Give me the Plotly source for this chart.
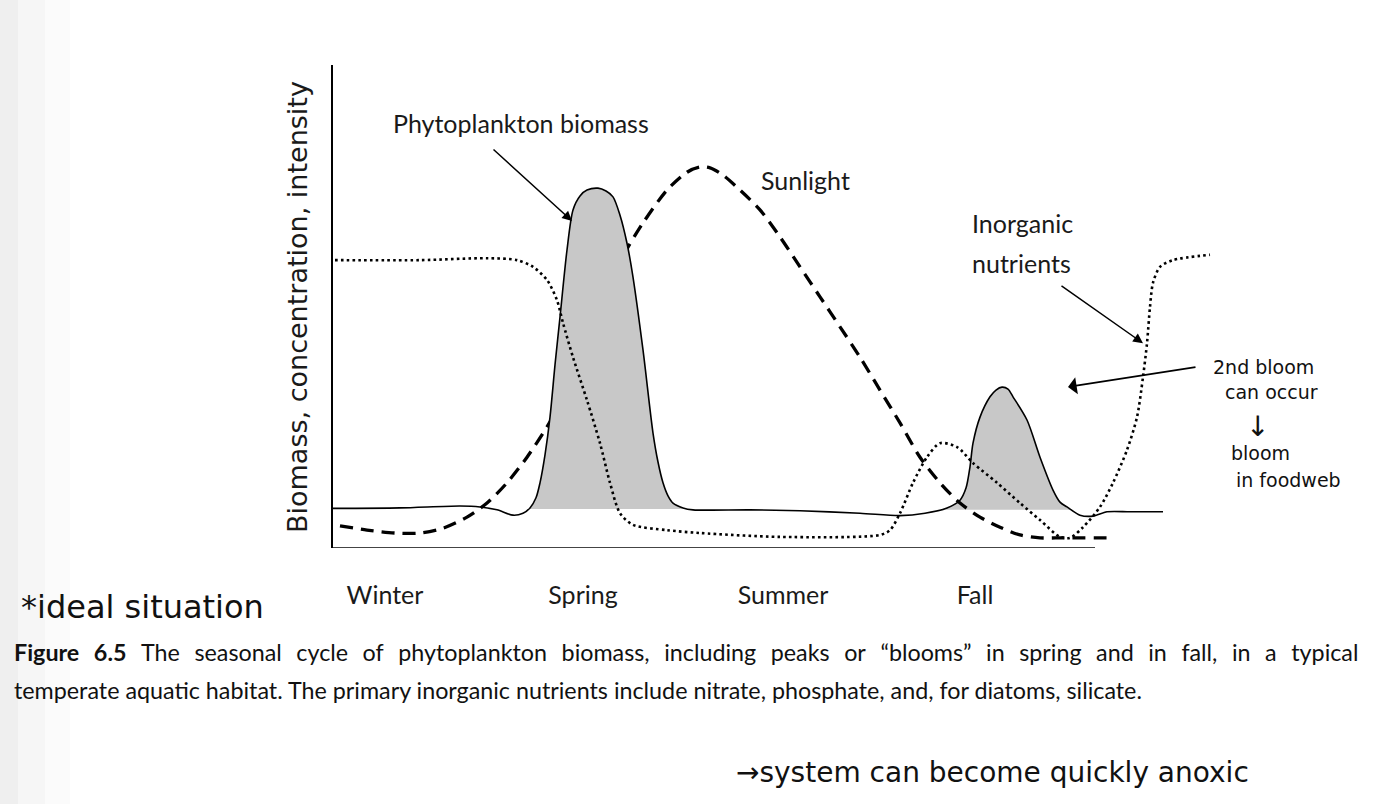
import plotly.graph_objects as go

# ---------------- data (time units along x, relative level 0-100 along y) ----------------
BIO_X = [0, 6.7, 12.7, 14.7, 16.4, 18.0, 19.0, 19.7, 20.3, 20.7, 21.2, 21.7, 22.2, 22.7, 23.4, 24.0,
         24.7, 25.4, 26.5, 27.3, 28.0, 28.7, 29.4, 30.0, 31.0, 32.0, 32.5, 33.0, 33.5, 34.0, 35.0,
         36.0, 41.7, 46.7, 52.7, 56.7, 59.2, 61.4, 62.7, 63.3, 63.7, 64.0, 64.7, 65.7, 66.3, 66.9,
         67.5, 68.0, 69.4, 70.7, 72.0, 72.7, 73.4, 74.7, 76.0, 77.4, 79.7, 83.0]
BIO_Y = [8.2, 8.3, 8.7, 8.5, 7.9, 6.8, 7.2, 8.3, 10.4, 13.5, 19.3, 27.1, 37.9, 47.8, 61.7, 70.0,
         72.9, 74.1, 74.5, 73.9, 72.7, 68.9, 63.1, 56.1, 41.0, 23.8, 17.8, 13.5, 10.8, 9.3, 8.3,
         7.9, 7.9, 7.7, 7.2, 6.7, 7.2, 8.3, 9.9, 12.4, 16.8, 21.7, 27.1, 31.3, 32.7, 33.3,
         32.9, 31.3, 26.5, 18.8, 12.0, 9.5, 8.5, 6.8, 6.6, 7.5, 7.5, 7.5]

SUN_X = [0.7, 3.4, 6.2, 8.7, 11.0, 13.4, 15.4, 17.4, 19.4, 21.4, 23.4, 25.4, 27.4, 29.5, 31.0,
         33.4, 35.4, 36.7, 37.7, 39.0, 40.7, 42.7, 44.7, 46.7, 48.7, 50.7, 52.7, 54.7, 56.7,
         58.7, 60.7, 62.7, 64.7, 66.7, 68.7, 70.7, 73.0, 77.7]
SUN_Y = [4.6, 3.7, 3.1, 3.1, 4.1, 6.4, 9.3, 13.5, 18.8, 25.1, 32.7, 43.1, 54.5, 62.3, 67.3,
         74.1, 77.8, 78.9, 78.7, 77.2, 74.1, 70.0, 64.4, 58.2, 52.0, 45.8, 39.5, 32.7, 25.9,
         18.8, 13.5, 9.3, 6.4, 4.3, 2.7, 2.1, 2.1, 2.1]

NUT_X = [0.2, 8.7, 15.4, 18.4, 20.0, 21.4, 22.4, 23.0, 24.0, 25.4, 26.7, 27.7, 28.7, 30.0, 33.4,
         36.7, 44.7, 54.7, 55.7, 56.7, 58.0, 59.4, 60.7, 62.4, 64.0, 66.4, 68.7, 70.7, 72.7, 73.7,
         75.0, 76.7, 78.0, 79.4, 80.4, 81.0, 81.4, 81.7, 82.0, 82.7, 84.0, 87.7]
NUT_Y = [59.6, 59.6, 60.0, 59.6, 58.2, 55.5, 51.3, 46.6, 39.5, 30.6, 21.7, 13.5, 7.2, 4.8, 3.7,
         3.1, 2.3, 2.7, 3.7, 7.2, 13.5, 18.8, 21.7, 20.9, 17.6, 13.5, 9.3, 5.8, 2.3, 2.1,
         4.3, 8.5, 13.5, 20.3, 27.1, 35.4, 42.4, 49.9, 54.9, 58.2, 59.6, 60.7]

SPRING_BLOOM = (19.7, 35.0, 8.1)   # start, end, base level
FALL_BLOOM = (61.2, 73.8, 7.9)

SEASONS = ["Winter", "Spring", "Summer", "Fall"]
SEASON_POS = [5.2, 25.0, 45.0, 64.2]

X_AXIS_END = 76.2

CAPTION_1 = "<b>Figure 6.5</b>  The seasonal cycle of phytoplankton biomass, including peaks or “blooms” in spring and in fall, in a typical"
CAPTION_2 = "temperate aquatic habitat. The primary inorganic nutrients include nitrate, phosphate, and, for diatoms, silicate."

# ---------------- layout geometry ----------------
W, H = 1378, 804
ML, MR, MT, MB = 333, 0, 65, 256
PW, PH = W - ML - MR, H - MT - MB


def pxx(px):
    return (px - ML) / PW


def pxy(py):
    return (H - MB - py) / PH


def bloom_polygon(start, end, base):
    xs = [start] + [x for x in BIO_X if start < x < end] + [end]
    ys = [base] + [y for x, y in zip(BIO_X, BIO_Y) if start < x < end] + [base]
    return xs, ys


def justify(text):
    # widen word gaps to imitate the justified first caption line
    return text.replace("  ", " ").replace(" ", "\u2002\u2009")


LABEL_FONT = dict(family="Lato, 'Open Sans', sans-serif", size=25, color="#1a1a1a")
CAP_FONT = dict(family="Lato, 'DejaVu Sans', sans-serif", size=23.3, color="#111111")
HAND_FONT = dict(family="'DejaVu Sans', sans-serif", color="#111111")

fig = go.Figure()

fx, fy = bloom_polygon(*FALL_BLOOM)
fig.add_trace(go.Scatter(x=fx, y=fy, mode="lines", fill="toself", fillcolor="#c8c8c8",
                         line=dict(width=0, shape="spline", smoothing=0.6), hoverinfo="skip"))

fig.add_trace(go.Scatter(x=SUN_X, y=SUN_Y, mode="lines",
                         line=dict(color="black", width=3.3, dash="13px,8px", shape="spline", smoothing=0.8)))

sx, sy = bloom_polygon(*SPRING_BLOOM)
fig.add_trace(go.Scatter(x=sx, y=sy, mode="lines", fill="toself", fillcolor="#c8c8c8",
                         line=dict(width=0, shape="spline", smoothing=0.6), hoverinfo="skip"))

fig.add_trace(go.Scatter(x=NUT_X, y=NUT_Y, mode="lines",
                         line=dict(color="black", width=2.6, dash="2.6px,3.2px", shape="spline", smoothing=0.8)))

fig.add_trace(go.Scatter(x=BIO_X, y=BIO_Y, mode="lines",
                         line=dict(color="black", width=1.6, shape="spline", smoothing=0.8)))

shapes = [
    # left page shading
    dict(type="rect", xref="paper", yref="paper", x0=pxx(0), x1=pxx(70), y0=pxy(H), y1=pxy(0),
         fillcolor="#fbfbfb", line=dict(width=0), layer="below"),
    dict(type="rect", xref="paper", yref="paper", x0=pxx(0), x1=pxx(45), y0=pxy(H), y1=pxy(0),
         fillcolor="#f6f6f6", line=dict(width=0), layer="below"),
    dict(type="rect", xref="paper", yref="paper", x0=pxx(0), x1=pxx(18), y0=pxy(H), y1=pxy(0),
         fillcolor="#efefef", line=dict(width=0), layer="below"),
    # x-axis line (shorter than plot area)
    dict(type="line", xref="x", yref="y", x0=0, x1=X_AXIS_END, y0=0, y1=0,
         line=dict(color="#444444", width=2)),
]


def note(text, px, py, size, anchor="center"):
    return dict(text=text, x=pxx(px), y=pxy(py), xref="paper", yref="paper", showarrow=False,
                xanchor=anchor, yanchor="middle", font=dict(HAND_FONT, size=size))


annotations = [
    dict(text="Phytoplankton biomass", x=18.8, y=88.0, xref="x", yref="y", showarrow=False,
         font=LABEL_FONT, xanchor="center", yanchor="middle"),
    dict(text="", x=23.9, y=67.7, ax=15.9, ay=82.8, xref="x", yref="y", axref="x", ayref="y",
         showarrow=True, arrowhead=2, arrowsize=1.3, arrowwidth=1.5, arrowcolor="black", standoff=0),
    dict(text="Sunlight", x=47.2, y=76.2, xref="x", yref="y", showarrow=False,
         font=LABEL_FONT, xanchor="center", yanchor="middle"),
    dict(text="Inorganic", x=63.7, y=67.3, xref="x", yref="y", showarrow=False,
         font=LABEL_FONT, xanchor="left", yanchor="middle"),
    dict(text="nutrients", x=63.7, y=59.0, xref="x", yref="y", showarrow=False,
         font=LABEL_FONT, xanchor="left", yanchor="middle"),
    dict(text="", x=81.0, y=42.4, ax=72.7, ay=54.5, xref="x", yref="y", axref="x", ayref="y",
         showarrow=True, arrowhead=2, arrowsize=1.3, arrowwidth=1.5, arrowcolor="black", standoff=0),
    # y-axis title
    dict(text="Biomass, concentration, intensity", x=pxx(297), y=pxy(307), xref="paper", yref="paper",
         showarrow=False, textangle=-90, xanchor="center", yanchor="middle",
         font=dict(family="'DejaVu Sans', sans-serif", size=27, color="#1a1a1a")),
    # caption
    dict(text=justify(CAPTION_1), x=pxx(12), y=pxy(652), xref="paper", yref="paper", showarrow=False,
         xanchor="left", yanchor="middle", font=CAP_FONT),
    dict(text=CAPTION_2, x=pxx(12), y=pxy(690), xref="paper", yref="paper", showarrow=False,
         xanchor="left", yanchor="middle", font=CAP_FONT),
    # handwritten notes
    note("*ideal situation", 142, 607, 32),
    note("→system can become quickly anoxic", 992, 772, 28),
    note("2nd bloom", 1263, 367, 19),
    note("can occur", 1271, 392, 19),
    note("↓", 1257, 427, 28),
    note("bloom", 1260, 453, 19),
    note("in foodweb", 1288, 480, 19),
    dict(text="", x=pxx(1068), y=pxy(387), ax=1197 - 1068, ay=367 - 387, xref="paper", yref="paper",
         axref="pixel", ayref="pixel", showarrow=True, arrowhead=1, arrowsize=1.6, arrowwidth=1.8,
         arrowcolor="black", standoff=0),
]

fig.update_layout(
    width=W, height=H,
    margin=dict(l=ML, r=MR, t=MT, b=MB, pad=0),
    paper_bgcolor="white", plot_bgcolor="white",
    showlegend=False,
    shapes=shapes,
    annotations=annotations,
    xaxis=dict(range=[0, PW / 10], showgrid=False, zeroline=False, showline=False,
               tickmode="array", tickvals=SEASON_POS, ticktext=SEASONS,
               ticks="outside", ticklen=25, tickcolor="rgba(0,0,0,0)",
               tickfont=LABEL_FONT, fixedrange=True),
    yaxis=dict(range=[0, 100], showgrid=False, zeroline=False, showline=True,
               linecolor="black", linewidth=2, showticklabels=False, ticks="", fixedrange=True),
)

fig.write_html("out.html")
